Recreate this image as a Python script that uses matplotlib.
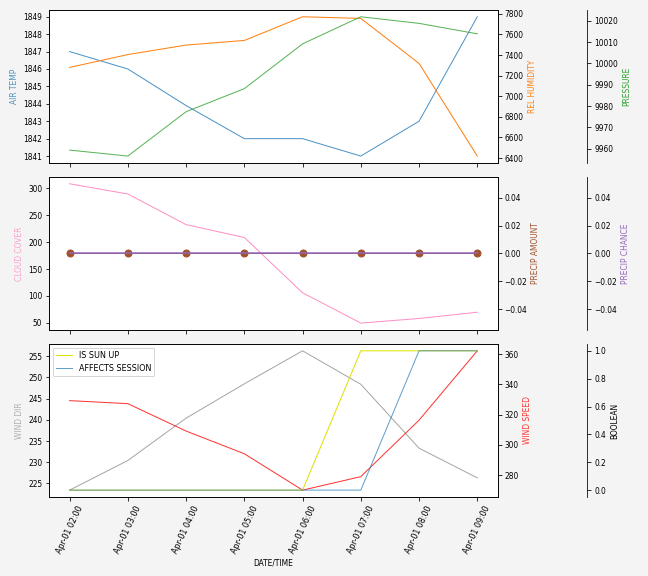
import datetime as dt
import matplotlib
matplotlib.use('Agg')
import matplotlib.pyplot as plt
import matplotlib.dates as mdates

times = [dt.datetime(2023, 4, 1, h) for h in range(2, 10)]

air_temp = [1847, 1846, 1843.9, 1842, 1842, 1841, 1843, 1849]
rel_humidity = [7280, 7405, 7497, 7542, 7772, 7756, 7319, 6419]
pressure = [9959.4, 9956.6, 9977.4, 9988.2, 10009.2, 10021.9, 10018.8, 10013.9]
cloud_cover = [308.6, 289.6, 232.6, 208.7, 105.8, 49.4, 58.0, 69.6]
precip_amount = [0, 0, 0, 0, 0, 0, 0, 0]
precip_chance = [0, 0, 0, 0, 0, 0, 0, 0]
wind_dir = [223.4, 230.4, 240.4, 248.5, 256.3, 248.4, 233.3, 226.3]
wind_speed = [329.3, 327.3, 309.2, 294.2, 270.2, 279.1, 316.4, 362.2]
is_sun_up = [0, 0, 0, 0, 0, 1, 1, 1]
affects_session = [0, 0, 0, 0, 0, 0, 1, 1]

plt.rcParams['font.size'] = 7.5

fig, axes = plt.subplots(3, 1, figsize=(9, 8), dpi=72, sharex=True)
fig.patch.set_facecolor('#f4f4f4')
fig.subplots_adjust(left=0.076, right=0.768, top=0.983, bottom=0.137, hspace=0.09)


def add_twins(ax):
    t1 = ax.twinx()
    t2 = ax.twinx()
    t2.spines['right'].set_position(('axes', 1.2))
    t2.spines['top'].set_visible(False)
    t2.spines['bottom'].set_visible(False)
    t2.spines['left'].set_visible(False)
    return t1, t2


lw = 1.0

# top panel
ax = axes[0]
t1, t2 = add_twins(ax)
ax.plot(times, air_temp, color='tab:blue', lw=lw, alpha=0.8)
ax.set_ylabel('AIR TEMP', color='tab:blue', alpha=0.8)
t1.plot(times, rel_humidity, color='tab:orange', lw=lw)
t1.set_ylabel('REL HUMIDITY', color='tab:orange')
t2.plot(times, pressure, color='tab:green', lw=lw, alpha=0.8)
t2.set_ylabel('PRESSURE', color='tab:green')

# middle panel
ax = axes[1]
t1, t2 = add_twins(ax)
ax.plot(times, cloud_cover, color='hotpink', lw=lw, alpha=0.75)
ax.set_ylabel('CLOUD COVER', color='hotpink', alpha=0.6)
t1.plot(times, precip_amount, color='sienna', lw=lw, marker='o', ms=7)
t1.set_ylabel('PRECIP AMOUNT', color='sienna')
t2.plot(times, precip_chance, color='tab:purple', lw=1.5)
t2.set_ylabel('PRECIP CHANCE', color='tab:purple')

# bottom panel
ax = axes[2]
t1, t2 = add_twins(ax)
ax.plot(times, wind_dir, color='gray', lw=lw, alpha=0.7)
ax.set_ylabel('WIND DIR', color='gray', alpha=0.6)
t1.plot(times, wind_speed, color='red', lw=lw, alpha=0.8)
t1.set_ylabel('WIND SPEED', color='red', alpha=0.8)
t2.plot(times, is_sun_up, color='#e0e000', lw=lw, label='IS SUN UP')
t2.plot(times, affects_session, color='tab:blue', lw=lw, alpha=0.7, label='AFFECTS SESSION')
t2.set_ylabel('BOOLEAN')
t2.legend(loc='upper left', fontsize=8)

ax.set_xlabel('DATE/TIME')
ax.xaxis.set_major_locator(mdates.HourLocator())
ax.xaxis.set_major_formatter(mdates.DateFormatter('%b-%d %H:%M'))
for lab in ax.get_xticklabels():
    lab.set_rotation(65)
    lab.set_fontsize(8)

fig.savefig('out.png', dpi=72, facecolor=fig.get_facecolor())
